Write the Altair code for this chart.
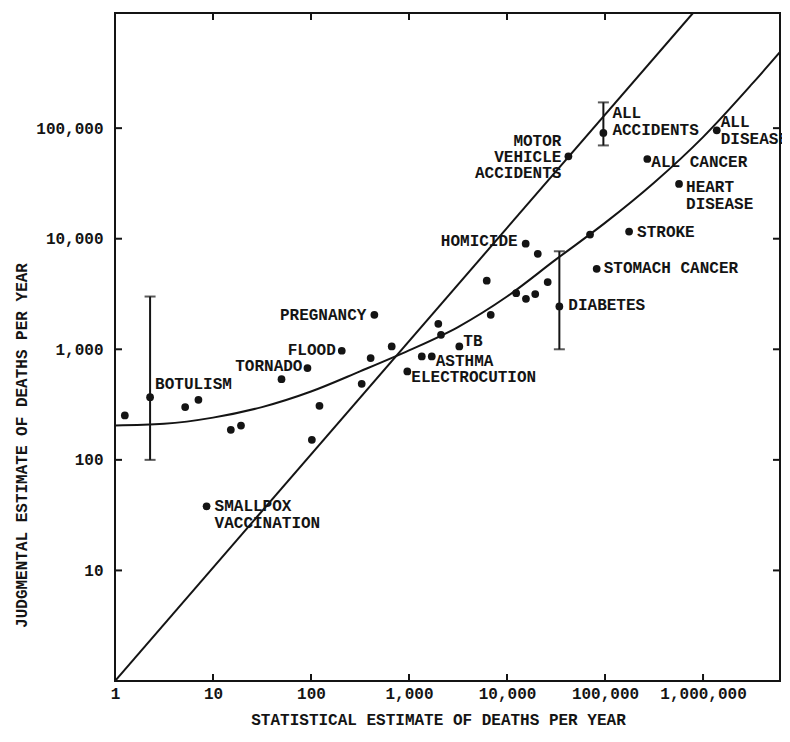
import altair as alt
import pandas as pd

# ---------------- data ----------------
stat_est = [1.26, 2.28, 5.2, 7.1, 8.6, 15.2, 19.3, 50, 92, 102,
            122, 206, 329, 406, 443, 666, 961, 1350, 1706, 1990,
            2120, 3260, 6210, 6820, 12400, 15600, 19400, 26000, 15500, 20600,
            34200, 42300, 70300, 82200, 96200, 176000, 270000, 569000, 1380000]
judg_est = [252, 369, 300, 349, 38, 187, 204, 537, 676, 152,
            308, 970, 487, 832, 2050, 1060, 630, 861, 861, 1700,
            1353, 1060, 4170, 2050, 3220, 2860, 3160, 4060, 9010, 7310,
            2440, 55600, 10900, 5350, 90400, 11600, 52600, 31300, 95700]
labels = ["", "BOTULISM", "", "", "SMALLPOX\nVACCINATION", "", "", "", "TORNADO", "",
          "", "FLOOD", "", "", "PREGNANCY", "", "ELECTROCUTION", "", "ASTHMA", "",
          "", "TB", "", "", "", "", "", "", "HOMICIDE", "",
          "DIABETES", "MOTOR\nVEHICLE\nACCIDENTS", "", "STOMACH CANCER", "ALL\nACCIDENTS",
          "STROKE", "ALL CANCER", "HEART\nDISEASE", "ALL\nDISEASE"]

err_x = [2.28, 34200, 96200]
err_lo = [100, 1000, 69800]
err_hi = [3000, 7700, 171000]

curve_x = [1, 3.16, 10, 31.6, 100, 316, 1000, 3162, 10000, 31620,
           100000, 316200, 1000000, 3162000, 7000000]
curve_y = [205, 212, 241, 300, 415, 631, 977, 1590, 3000, 6500,
           13900, 32100, 83000, 251000, 562000]

diag_x = [1, 790000]
diag_y = [1, 1100000]

x_label_values = [1, 10, 100, 1000, 10000, 100000, 1000000]
y_label_values = [10, 100, 1000, 10000, 100000]
x_ticks_bottom = [10, 100, 1000, 10000, 100000, 1000000]
x_ticks_top = [10, 100, 1000, 10000, 100000]
y_ticks = [10, 100, 1000, 10000, 100000]

x_title = "STATISTICAL ESTIMATE OF DEATHS PER YEAR"
y_title = "JUDGMENTAL ESTIMATE OF DEATHS PER YEAR"

# ---------------- styling ----------------
FONT = "Liberation Mono"
INK = "#141414"
W, H = 665, 668
TL = 7  # inward tick length

# label placement (dx, dy, align, baseline, lineHeight)
label_style = {
    "BOTULISM": (5, -13, "left", "middle", 17),
    "TORNADO": (-5, -2, "right", "middle", 17),
    "FLOOD": (-6, -1, "right", "middle", 17),
    "PREGNANCY": (-8, 0, "right", "middle", 17),
    "SMALLPOX\nVACCINATION": (8, -8, "left", "top", 17),
    "TB": (4, -5, "left", "middle", 17),
    "ASTHMA": (4, 5, "left", "middle", 17),
    "ELECTROCUTION": (4, 6, "left", "middle", 17),
    "HOMICIDE": (-8, -3, "right", "middle", 17),
    "DIABETES": (9, -1, "left", "middle", 17),
    "STOMACH CANCER": (7, -1, "left", "middle", 17),
    "STROKE": (8, 0, "left", "middle", 17),
    "HEART\nDISEASE": (7, -5, "left", "top", 17),
    "ALL CANCER": (4, 3, "left", "middle", 17),
    "ALL\nDISEASE": (4, -16, "left", "top", 16.5),
    "ALL\nACCIDENTS": (9, -28, "left", "top", 17.5),
    "MOTOR\nVEHICLE\nACCIDENTS": (-7, -23, "right", "top", 16),
}

xs = alt.Scale(type="log", domain=[1, 6100000], nice=False)
ys = alt.Scale(type="log", domain=[1, 1100000], nice=False)

x_axis = alt.Axis(values=x_label_values, format=",", labelFont=FONT, labelFontSize=16,
                  labelColor=INK, labelFontWeight="bold", labelFlush=False,
                  labelOverlap=False, ticks=False, domain=False, grid=False,
                  labelPadding=4, titleFont=FONT, titleFontSize=16,
                  titleFontWeight="bold", titleColor=INK, titleX=323, titleY=38,
                  titleBaseline="middle", titleAlign="center")
y_axis = alt.Axis(values=y_label_values, format=",", labelFont=FONT, labelFontSize=16,
                  labelColor=INK, labelFontWeight="bold", labelFlush=False,
                  labelOverlap=False, ticks=False, domain=False, grid=False,
                  labelPadding=12, titleFont=FONT, titleFontSize=16,
                  titleFontWeight="bold", titleColor=INK, titleX=-94, titleY=432,
                  titleBaseline="middle", titleAlign="center", titleAngle=270)


def X(field):
    return alt.X(field, type="quantitative", scale=xs, axis=x_axis, title=x_title)


def Y(field):
    return alt.Y(field, type="quantitative", scale=ys, axis=y_axis, title=y_title)


pts = pd.DataFrame({"stat": stat_est, "judg": judg_est, "label": labels})
err = pd.DataFrame({"stat": err_x, "judg": err_lo, "hi": err_hi})
curve = pd.DataFrame({"stat": curve_x, "judg": curve_y})
diag = pd.DataFrame({"stat": diag_x, "judg": diag_y})

points = alt.Chart(pts).mark_circle(size=60, color=INK, opacity=1).encode(
    x=X("stat"), y=Y("judg"))

diag_line = alt.Chart(diag).mark_line(color=INK, strokeWidth=2, clip=True).encode(
    x=X("stat"), y=Y("judg"))

curve_line = alt.Chart(curve).mark_line(color=INK, strokeWidth=2, clip=True,
                                        interpolate="monotone").encode(
    x=X("stat"), y=Y("judg"))

err_rule = alt.Chart(err).mark_rule(color=INK, strokeWidth=2).encode(
    x=X("stat"), y=Y("judg"), y2="hi:Q")
err_cap_lo = alt.Chart(err).mark_tick(color=INK, thickness=2, size=11,
                                      orient="horizontal").encode(
    x=X("stat"), y=Y("judg"))
err_cap_hi = alt.Chart(err).mark_tick(color=INK, thickness=2, size=11,
                                      orient="horizontal").encode(
    x=X("stat"), y=Y("hi"))

tick_layers = [
    alt.Chart(pd.DataFrame({"stat": x_ticks_bottom})).mark_rule(color=INK, strokeWidth=2).encode(
        x=X("stat"), y=alt.value(H), y2=alt.value(H - TL)),
    alt.Chart(pd.DataFrame({"stat": x_ticks_top})).mark_rule(color=INK, strokeWidth=2).encode(
        x=X("stat"), y=alt.value(0), y2=alt.value(TL)),
    alt.Chart(pd.DataFrame({"judg": y_ticks})).mark_rule(color=INK, strokeWidth=2).encode(
        y=Y("judg"), x=alt.value(0), x2=alt.value(TL)),
    alt.Chart(pd.DataFrame({"judg": y_ticks})).mark_rule(color=INK, strokeWidth=2).encode(
        y=Y("judg"), x=alt.value(W), x2=alt.value(W - TL)),
]

text_layers = []
for name, (dx, dy, align, baseline, lh) in label_style.items():
    sub = pts[pts["label"] == name]
    text_layers.append(
        alt.Chart(sub).mark_text(dx=dx, dy=dy, align=align, baseline=baseline,
                                 lineBreak="\n", lineHeight=lh, font=FONT,
                                 fontSize=16, fontWeight="bold", color=INK).encode(
            x=X("stat"), y=Y("judg"), text="label:N")
    )

chart = alt.layer(
    points, diag_line, curve_line, err_rule, err_cap_lo, err_cap_hi,
    *tick_layers, *text_layers
).properties(
    width=W, height=H,
    padding={"left": 107, "top": 5, "right": 2, "bottom": 48},
    autosize=alt.AutoSizeParams(type="none"),
    background="white",
).configure_view(stroke=INK, strokeWidth=2)

chart.save("out.html", embed_options={"renderer": "svg", "actions": False})
